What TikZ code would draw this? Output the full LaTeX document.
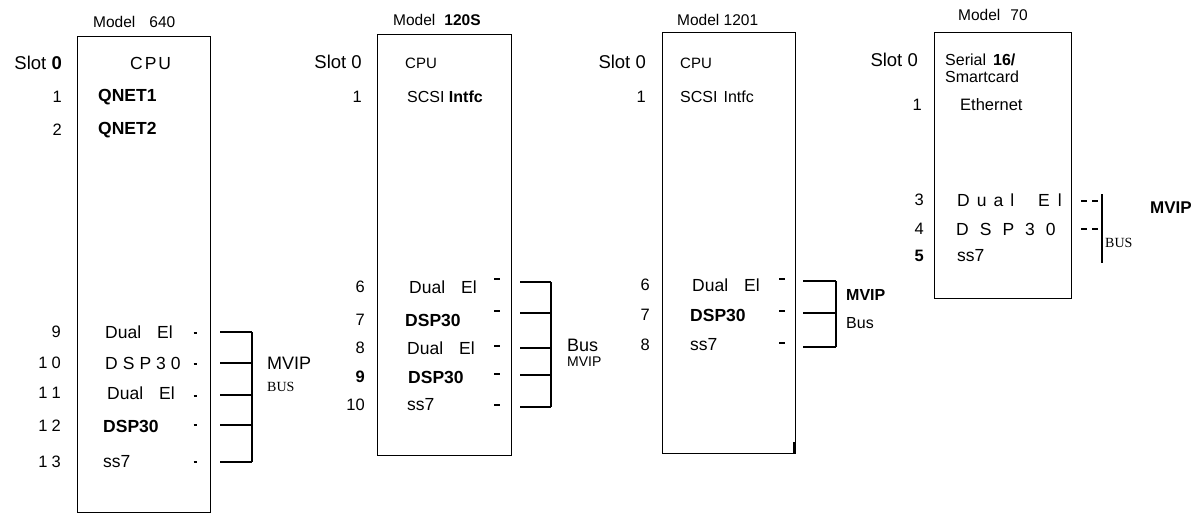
\documentclass[tikz,border=0pt]{standalone}
\usepackage{fontspec}
\setmainfont{Liberation Sans}
\newfontfamily\seriffont{Liberation Serif}
\newcommand\gp[1]{\hspace{#1pt}}
\begin{document}
\begin{tikzpicture}[x=1pt,y=-1pt,
  box/.style={draw, line width=1.3pt, inner sep=0pt, anchor=north west},
  lbl/.style={inner sep=0pt, anchor=west, font=\fontsize{17.5}{17.5}\selectfont},
  slbl/.style={inner sep=0pt, anchor=west, font=\fontsize{15}{15}\selectfont},
  num/.style={inner sep=0pt, anchor=east, font=\fontsize{16.5}{16.5}\selectfont},
  slot/.style={inner sep=0pt, anchor=east, font=\fontsize{18.5}{18.5}\selectfont},
  model/.style={inner sep=0pt, anchor=west, font=\fontsize{15.5}{15.5}\selectfont},
  serif/.style={inner sep=0pt, anchor=west, font=\seriffont\fontsize{14}{14}\selectfont},
  busline/.style={line width=1.3pt},
  stub/.style={line width=2.4pt}]
\useasboundingbox (0,0) rectangle (1204,514);

% ================= Model 640 =================
\node[box, minimum width=133pt, minimum height=476pt] (b1) at (77,36) {};
\node[model] (m1) at (93,22) {Model\gp{14}640};
\node[slot] (s1a) at (62,63) {Slot \textbf{0}};
\node[num] (s1b) at (62,97) {1};
\node[num] (s1c) at (62,130) {2};
\node[lbl] (c1a) at (130,63) {C\gp{2}P\gp{2}U};
\node[lbl] (c1b) at (98,97) {\textbf{QNET1}};
\node[lbl] (c1c) at (98,130) {\textbf{QNET2}};
\node[num] (n1a) at (61,332) {9};
\node[num] (n1b) at (61,363) {1\gp{4}0};
\node[num] (n1c) at (61,393) {1\gp{4}1};
\node[num] (n1d) at (61,426) {1\gp{4}2};
\node[num] (n1e) at (61,462) {1\gp{4}3};
\node[lbl] (t1a) at (105,332) {Dual\gp{16}El};
\node[lbl] (t1b) at (105,363) {D\gp{5}S\gp{5}P\gp{5}3\gp{5}0};
\node[lbl] (t1c) at (107,393) {Dual\gp{16}El};
\node[lbl] (t1d) at (103,426) {\textbf{DSP30}};
\node[lbl] (t1e) at (103,462) {ss7};
\foreach \y/\n in {333/a,364/b,396/c,425/d,462/e}{
  \coordinate (d1\n a) at (193.5,\y); \coordinate (d1\n b) at (196.5,\y);
  \draw[stub] (d1\n a) -- (d1\n b);}
\foreach \y/\n in {332/a,363/b,395/c,425/d,462/e}{
  \coordinate (l1\n) at (220,\y); \coordinate (r1\n) at (252,\y);
  \draw[busline] (l1\n) -- (r1\n);}
\draw[busline] (r1a) -- (r1e);
\node[lbl, font=\fontsize{18}{18}\selectfont] (bus1a) at (267,363) {MVIP};
\node[serif] (bus1b) at (267,387) {BUS};

% ================= Model 120S =================
\node[box, minimum width=134pt, minimum height=421pt] (b2) at (377,34) {};
\node[model] (m2) at (393,20) {Model\gp{9}\textbf{120S}};
\node[slot] (s2a) at (362,62) {Slot 0};
\node[num] (s2b) at (362,97) {1};
\node[slbl] (c2a) at (405,63) {CPU};
\node[lbl, font=\fontsize{16}{16}\selectfont] (c2b) at (407,97) {SCSI \textbf{Intfc}};
\node[num] (n2a) at (365,287) {6};
\node[num] (n2b) at (365,320) {7};
\node[num] (n2c) at (365,348) {8};
\node[num] (n2d) at (365,377) {\textbf{9}};
\node[num] (n2e) at (365,405) {10};
\node[lbl] (t2a) at (409,287) {Dual\gp{16}El};
\node[lbl] (t2b) at (405,320) {\textbf{DSP30}};
\node[lbl] (t2c) at (407,348) {Dual\gp{16}El};
\node[lbl] (t2d) at (408,377) {\textbf{DSP30}};
\node[lbl] (t2e) at (407,405) {ss7};
\foreach \y/\n in {279/a,311/b,346/c,374/d,405/e}{
  \coordinate (d2\n a) at (494,\y); \coordinate (d2\n b) at (500,\y);
  \draw[stub] (d2\n a) -- (d2\n b);}
\foreach \y/\n in {282/a,313/b,348/c,375/d,407/e}{
  \coordinate (l2\n) at (520,\y); \coordinate (r2\n) at (551,\y);
  \draw[busline] (l2\n) -- (r2\n);}
\draw[busline] (r2a) -- (r2e);
\node[lbl, font=\fontsize{18}{18}\selectfont] (bus2a) at (567,345) {Bus};
\node[lbl, font=\fontsize{14}{14}\selectfont] (bus2b) at (567,362) {MVIP};

% ================= Model 1201 =================
\node[box, minimum width=133pt, minimum height=421pt] (b3) at (662,32) {};
\node[model] (m3) at (677,20) {Model 1201};
\node[slot] (s3a) at (646,62) {Slot 0};
\node[num] (s3b) at (646,97) {1};
\node[slbl] (c3a) at (680,63) {CPU};
\node[lbl, font=\fontsize{16}{16}\selectfont] (c3b) at (680,97) {SCSI\gp{6}Intfc};
\node[num] (n3a) at (650,285) {6};
\node[num] (n3b) at (650,315) {7};
\node[num] (n3c) at (650,345) {8};
\node[lbl] (t3a) at (692,285) {Dual\gp{16}El};
\node[lbl] (t3b) at (690,315) {\textbf{DSP30}};
\node[lbl] (t3c) at (690,345) {ss7};
\foreach \y/\n in {279/a,311/b,343/c}{
  \coordinate (d3\n a) at (779,\y); \coordinate (d3\n b) at (785,\y);
  \draw[stub] (d3\n a) -- (d3\n b);}
\foreach \y/\n in {281/a,313/b,347/c}{
  \coordinate (l3\n) at (803,\y); \coordinate (r3\n) at (836,\y);
  \draw[busline] (l3\n) -- (r3\n);}
\draw[busline] (r3a) -- (r3c);
\coordinate (k3a) at (794,442); \coordinate (k3b) at (794,453);
\draw[line width=3pt] (k3a) -- (k3b);
\node[lbl, font=\bfseries\fontsize{16}{16}\selectfont] (bus3a) at (846,295) {MVIP};
\node[lbl, font=\fontsize{16}{16}\selectfont] (bus3b) at (846,323) {Bus};

% ================= Model 70 =================
\node[box, minimum width=137pt, minimum height=266pt] (b4) at (934,32) {};
\node[model] (m4) at (958,15) {Model\gp{10}70};
\node[slot] (s4a) at (918,60) {Slot 0};
\node[lbl, font=\fontsize{16}{16}\selectfont] (c4a) at (945,60) {Serial\gp{7}\textbf{16/}};
\node[lbl, font=\fontsize{16}{16}\selectfont] (c4b) at (945,77) {Smartcard};
\node[num] (s4b) at (922,105) {1};
\node[lbl, font=\fontsize{16.5}{16.5}\selectfont] (c4c) at (960,105) {Ethernet};
\node[num] (n4a) at (924,200) {3};
\node[num] (n4b) at (924,229) {4};
\node[num] (n4c) at (924,256) {\textbf{5}};
\node[lbl] (t4a) at (957,200) {D\gp{7}u\gp{7}a\gp{7}l\gp{24}E\gp{8}l};
\node[lbl] (t4b) at (956,229) {D\gp{11}S\gp{11}P\gp{11}3\gp{11}0};
\node[lbl] (t4c) at (957,256) {ss7};
\foreach \y/\n in {201/a,229/b}{
  \coordinate (l4\n) at (1081,\y); \coordinate (r4\n) at (1102,\y);
  \draw[line width=1.2pt, dash pattern=on 6pt off 5pt] (l4\n) -- (r4\n);}
\coordinate (v4a) at (1102,194); \coordinate (v4b) at (1102,263);
\draw[busline] (v4a) -- (v4b);
\node[lbl, font=\bfseries\fontsize{17}{17}\selectfont] (bus4a) at (1150,208) {MVIP};
\node[serif] (bus4b) at (1105,243) {BUS};
\end{tikzpicture}
\end{document}
